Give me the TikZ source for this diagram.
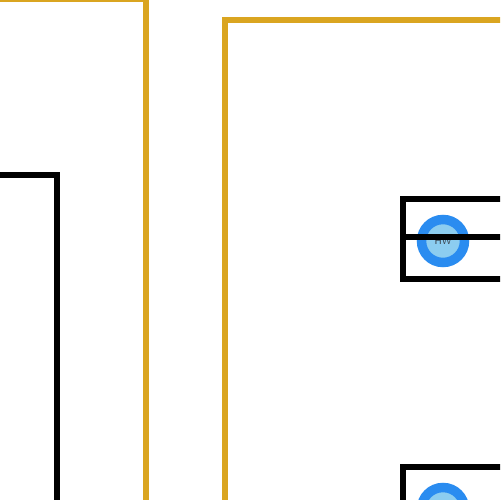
\documentclass[tikz,border=0pt]{standalone}
\usepackage{tikz}

\def\pxu{0.02}
\def\frameline{3.9pt}
\definecolor{hwgold}{HTML}{DAA520}
\definecolor{hwring}{HTML}{2A8CF0}
\definecolor{hwcore}{HTML}{8CCDF0}
\definecolor{hwtext}{HTML}{3C4650}

\tikzset{
  groupframe/.style={draw=hwgold, line width=\frameline},
  partframe/.style={draw=black, line width=\frameline},
  hwdot/.style={
    circle,
    draw=hwring,
    fill=hwcore,
    line width=5.4pt,
    minimum size=0.86cm,
    inner sep=0pt,
    text=hwtext,
    font=\sffamily\fontsize{5.5}{6}\selectfont
  }
}

\begin{document}
\begin{tikzpicture}[x=\pxu cm, y=-\pxu cm]

  \useasboundingbox (0,0) rectangle (500,500);
  \clip (0,0) rectangle (500,500);

  % --------------------------------------------------------------------
  % Gold group frames
  % --------------------------------------------------------------------

  \draw[groupframe] (-200,-1) rectangle (146,600);
  \draw[groupframe] (225,20) rectangle (700,700);

  % --------------------------------------------------------------------
  % Black part outline on the left
  % --------------------------------------------------------------------

  \draw[partframe] (-200,175) rectangle (57,700);

  % --------------------------------------------------------------------
  % Hardware slots
  % --------------------------------------------------------------------

  \foreach \row/\ytop in {a/199, b/467}{
    \node[hwdot, yshift=-0.04cm] (hw\row) at (443,\ytop+40) {HW};
    \coordinate (mid\row) at (403,\ytop+38);
    \draw[partframe] (403,\ytop) rectangle (700,\ytop+80);
    \draw[partframe] (mid\row) -- ++(300,0);
  }

\end{tikzpicture}
\end{document}
